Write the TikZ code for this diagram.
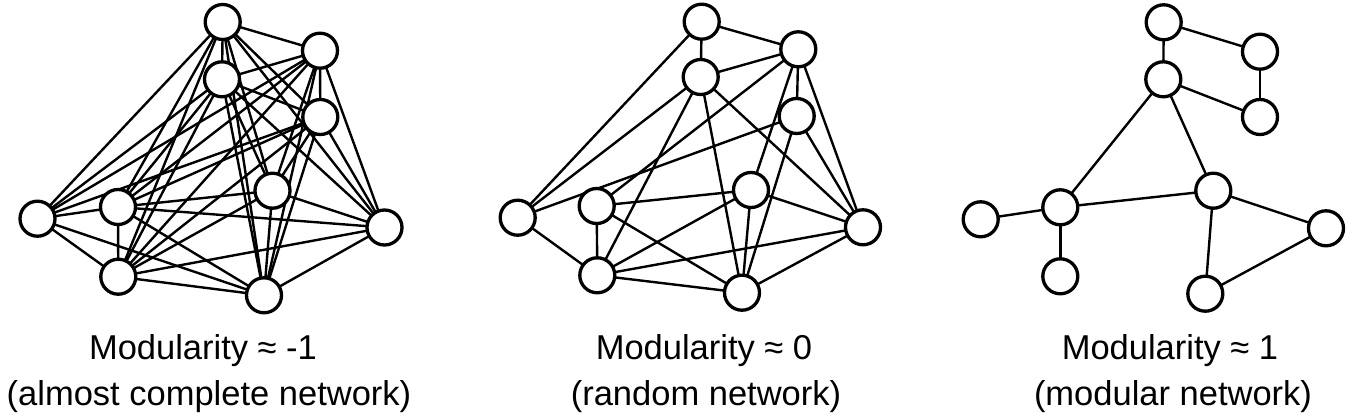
\documentclass[tikz,border=0pt]{standalone}
\usepackage{fontspec}
\setmainfont{Liberation Sans}
\pgfdeclarelayer{bg}
\pgfsetlayers{bg,main}
\begin{document}
\begin{tikzpicture}[x=1pt,y=-1pt,
  vtx/.style={circle,draw,fill=white,line width=3.3pt,minimum size=35pt,inner sep=0pt},
  edge/.style={line width=2.4pt},
  lbl/.style={font=\fontsize{34.5}{40}\selectfont,anchor=base,inner sep=0pt}]
\useasboundingbox (0,0) rectangle (1350,419);
% graph 1
\foreach \n/\x/\y in {A/222.7/22,B/320/50.7,C/222/79.3,D/320.3/117,E/37.5/218.7,F/118/207,G/272.5/190.7,H/384.5/227.5,I/118.3/276.7,J/264/295.3}
  \node[vtx] (a\n) at (\x,\y) {};
% graph 2
\foreach \n/\x/\y in {A/701.7/21.7,B/798.3/49.3,C/700.7/77,D/796.7/116,E/517.7/217.7,F/596.7/206,G/751/190,H/863/227.3,I/597.3/275.3,J/742/292.7}
  \node[vtx] (b\n) at (\x,\y) {};
% graph 3
\foreach \n/\x/\y in {A/1163.7/22.3,B/1260/51.7,C/1163.3/79.3,D/1260/117,E/980.7/219.3,F/1060.3/207.3,G/1213.3/190.7,H/1326/228.3,I/1060.3/276.3,J/1205.3/293.7}
  \node[vtx] (c\n) at (\x,\y) {};
\begin{pgfonlayer}{bg}
\foreach \u/\v in {A/B,A/C,A/D,A/E,A/F,A/G,A/H,A/I,A/J,
  B/C,B/D,B/E,B/F,B/G,B/H,B/I,B/J,
  C/D,C/E,C/F,C/G,C/H,C/I,C/J,
  D/E,D/F,D/G,D/H,D/I,D/J,
  E/F,E/I,E/J,
  F/G,F/H,F/I,F/J,
  G/H,G/I,G/J,
  H/I,H/J,
  I/J}
  \draw[edge] (a\u.center) -- (a\v.center);
\foreach \u/\v in {A/B,A/C,A/E,B/C,B/D,B/F,B/G,B/H,C/E,C/I,C/J,C/H,D/E,D/H,D/J,
  E/I,F/I,F/G,F/J,G/I,G/H,G/J,H/I,H/J,I/J}
  \draw[edge] (b\u.center) -- (b\v.center);
\foreach \u/\v in {A/B,A/C,B/D,C/D,C/F,C/G,E/F,F/I,F/G,G/H,G/J,H/J}
  \draw[edge] (c\u.center) -- (c\v.center);
\end{pgfonlayer}
% labels
\node[lbl] (l1a) at (203,360) {Modularity ≈ -1};
\node[lbl] (l1b) at (209,406) {(almost complete network)};
\node[lbl] (l2a) at (704,360) {Modularity ≈ 0};
\node[lbl] (l2b) at (706,406) {(random network)};
\node[lbl] (l3a) at (1170,360) {Modularity ≈ 1};
\node[lbl] (l3b) at (1173,406) {(modular network)};
\end{tikzpicture}
\end{document}
